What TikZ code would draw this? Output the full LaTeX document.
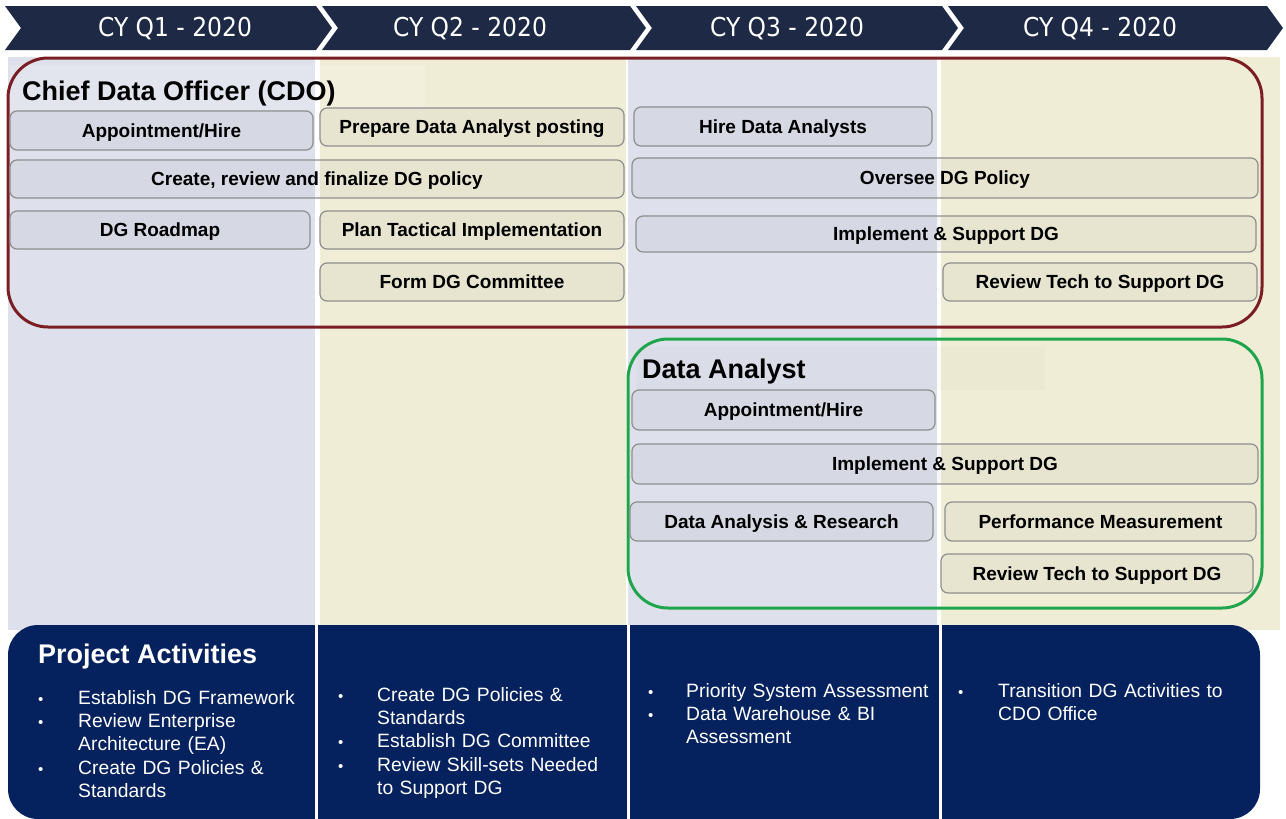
\documentclass[tikz,border=0pt]{standalone}
\usepackage{fontspec}
\setmainfont{Liberation Sans}
\newfontfamily\hdrfont[FakeStretch=0.9]{DejaVu Sans}
\definecolor{hdrnavy}{HTML}{1E2945}
\definecolor{panelnavy}{HTML}{05215E}
\definecolor{lav}{HTML}{DEE1EC}
\definecolor{cream}{HTML}{F0EDD7}
\definecolor{cdored}{HTML}{7A1E24}
\definecolor{dagreen}{HTML}{1FA54B}
\definecolor{boxline}{HTML}{8E8E8E}
% one bulleted item with a hanging indent of #1
\newcommand{\bitem}[2]{\hangindent=#1\hangafter=1\noindent
  \makebox[#1][l]{\fontsize{15}{15}\selectfont\textbullet}#2\par}
\begin{document}
\begin{tikzpicture}[x=1pt,y=-1pt,
  chev/.style={fill=hdrnavy},
  hdrtext/.style={text=white,font=\hdrfont\fontsize{26}{28}\selectfont,inner sep=0,
    text height=19pt,text depth=0pt},
  taskbox/.style={draw=boxline,line width=1.2pt,rounded corners=7pt,
    fill=black!60,fill opacity=0.06,text opacity=1,
    font=\bfseries\fontsize{19}{22}\selectfont,text=black,inner sep=0,
    text height=13.6pt,text depth=0pt},
  grouptitle/.style={anchor=west,inner sep=0,font=\bfseries\fontsize{27}{30}\selectfont,
    text height=19.4pt,text depth=0pt},
  bullets/.style={anchor=base west,inner sep=0,text=white,text width=300pt,align=left,
    font=\fontsize{19.3}{23.4}\selectfont}
]
\useasboundingbox (0,0) rectangle (1286,819);
\fill[white] (0,0) rectangle (1286,819);

% quarter columns
\fill[lav]   (8,57)   rectangle (315,630);
\fill[cream] (320,57) rectangle (626,630);
\fill[lav]   (628,57) rectangle (937,630);
\fill[cream] (941,57) rectangle (1280,630);

% timeline chevrons
\fill[chev] (5,6)    -- (316,6)  -- (332,28)  -- (316,50)  -- (5,50)    -- (21,28)  -- cycle;
\fill[chev] (322,6)  -- (630,6)  -- (646,28)  -- (630,50)  -- (322,50)  -- (338,28) -- cycle;
\fill[chev] (636,6)  -- (942,6)  -- (958,28)  -- (942,50)  -- (636,50)  -- (652,28) -- cycle;
\fill[chev] (948,6)  -- (1267,6) -- (1283,28) -- (1267,50) -- (948,50)  -- (964,28) -- cycle;
\node[hdrtext] (q1) at (175,27)  {CY Q1 - 2020};
\node[hdrtext] (q2) at (470,27)  {CY Q2 - 2020};
\node[hdrtext] (q3) at (787,27)  {CY Q3 - 2020};
\node[hdrtext] (q4) at (1100,27) {CY Q4 - 2020};

% Chief Data Officer group
\fill[white,opacity=0.15] (10,65) rectangle (425,110);
\draw[cdored,line width=3pt,rounded corners=40pt] (8,58) rectangle (1262,327);
\node[grouptitle] (cdo) at (22,91) {Chief Data Officer (CDO)};

\node[taskbox,minimum width=303pt,minimum height=39pt] (c1)  at (161.5,130.5) {Appointment/Hire};
\node[taskbox,minimum width=304pt,minimum height=38pt] (c2)  at (472,127)     {Prepare Data Analyst posting};
\node[taskbox,minimum width=298pt,minimum height=39pt] (c3)  at (783,126.5)   {Hire Data Analysts};
\node[taskbox,minimum width=614pt,minimum height=38pt] (c4)  at (317,179)     {Create, review and finalize DG policy};
\node[taskbox,minimum width=626pt,minimum height=40pt] (c5)  at (945,178)     {Oversee DG Policy};
\node[taskbox,minimum width=300pt,minimum height=38pt] (c6)  at (160,230)     {DG Roadmap};
\node[taskbox,minimum width=304pt,minimum height=38pt] (c7)  at (472,230)     {Plan Tactical Implementation};
\node[taskbox,minimum width=620pt,minimum height=36pt] (c8)  at (946,234)     {Implement \& Support DG};
\node[taskbox,minimum width=304pt,minimum height=38pt] (c9)  at (472,282)     {Form DG Committee};
\node[taskbox,minimum width=314pt,minimum height=38pt] (c10) at (1100,282)    {Review Tech to Support DG};

% Data Analyst group
\fill[black,opacity=0.015] (637,347) rectangle (1045,390);
\draw[dagreen,line width=3pt,rounded corners=40pt] (628,339) rectangle (1262,608);
\node[grouptitle] (da) at (642,369) {Data Analyst};

\node[taskbox,minimum width=303pt,minimum height=40pt] (d1) at (783.5,410)  {Appointment/Hire};
\node[taskbox,minimum width=626pt,minimum height=40pt] (d2) at (945,464)    {Implement \& Support DG};
\node[taskbox,minimum width=303pt,minimum height=39pt] (d3) at (781.5,521.5) {Data Analysis \& Research};
\node[taskbox,minimum width=311pt,minimum height=39pt] (d4) at (1100.5,521.5) {Performance Measurement};
\node[taskbox,minimum width=312pt,minimum height=39pt] (d5) at (1097,573.5) {Review Tech to Support DG};

% project activities panel
\fill[panelnavy,rounded corners=30pt] (8,625) rectangle (1260,819);
\fill[white] (314.5,625) rectangle (317.5,819);
\fill[white] (626.5,625) rectangle (629.5,819);
\fill[white] (938.5,625) rectangle (941.5,819);
\node[grouptitle,text=white] (pa) at (38,654) {Project Activities};

\node[bullets] (p1) at (38,704) {%
  \bitem{40pt}{Establish DG Framework}%
  \bitem{40pt}{Review Enterprise\newline Architecture (EA)}%
  \bitem{40pt}{Create DG Policies \&\newline Standards}};
\node[bullets] (p2) at (338,701) {%
  \bitem{39pt}{Create DG Policies \&\newline Standards}%
  \bitem{39pt}{Establish DG Committee}%
  \bitem{39pt}{Review Skill-sets Needed\newline to Support DG}};
\node[bullets] (p3) at (648,697) {%
  \bitem{38pt}{Priority System Assessment}%
  \bitem{38pt}{Data Warehouse \& BI\newline Assessment}};
\node[bullets] (p4) at (958,697) {%
  \bitem{40pt}{Transition DG Activities to\newline CDO Office}};
\end{tikzpicture}
\end{document}
